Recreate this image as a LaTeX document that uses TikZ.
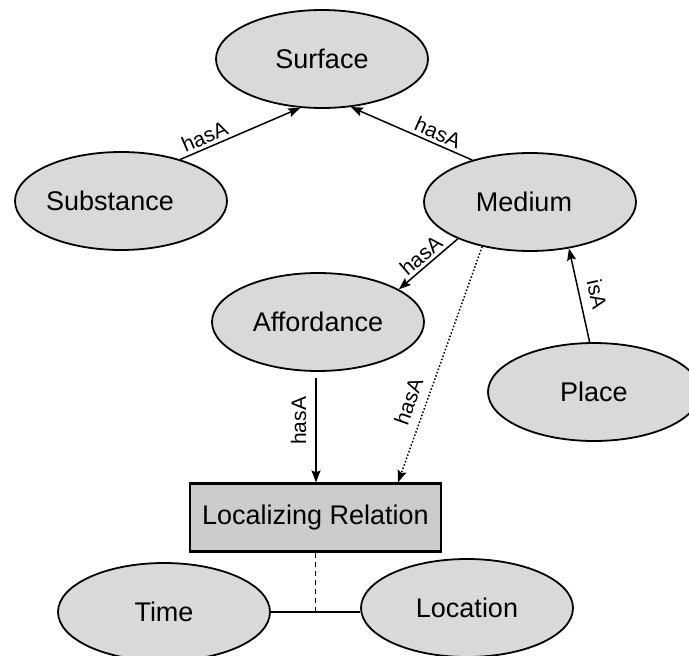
\documentclass[tikz,border=0pt]{standalone}
\usepackage{fontspec}
\setmainfont{Liberation Sans}
\usetikzlibrary{shapes.geometric,arrows.meta,calc}
\definecolor{ellfill}{RGB}{217,217,217}
\definecolor{boxfill}{RGB}{205,203,206}
\tikzset{
  ent/.style={ellipse,draw=black,line width=1.8pt,fill=ellfill,minimum width=212pt,minimum height=98pt,inner sep=0pt,font=\fontsize{27}{32}\selectfont},
  relbox/.style={rectangle,draw=black,line width=2.2pt,fill=boxfill,minimum width=251pt,minimum height=68pt,inner sep=0pt,font=\fontsize{27}{32}\selectfont},
  conn/.style={line width=1.5pt,-{Stealth[length=12pt,width=9pt,inset=2pt]}},
  lbl/.style={font=\fontsize{21}{25}\selectfont,inner sep=0pt}
}
\begin{document}
\begin{tikzpicture}[x=1pt,y=-1pt]
\useasboundingbox (0,0) rectangle (689,656);
\clip (0,0) rectangle (689,656);
\node[ent] (surface) at (322,59) {Surface};
\node[ent] (substance) at (121,201) {\hspace*{-22pt}Substance};
\node[ent] (medium) at (530,202) {\hspace*{-12pt}Medium};
\node[ent] (affordance) at (318,322) {Affordance};
\node[ent] (place) at (594,392) {Place};
\node[relbox] (box) at (315.5,517.5) {Localizing Relation};
\node[ent] (time) at (164,612) {Time};
\node[ent] (location) at (467,608) {Location};

\draw[conn] (substance.35) -- node[lbl,sloped,above=3pt,pos=0.24] {hasA} (surface.246);
\draw[conn] (medium.144) -- node[lbl,sloped,above=3pt,pos=0.32] {hasA} (surface.301);
\draw[conn] (medium.207) -- node[lbl,sloped,above=3pt,pos=0.5] {hasA} (affordance.22);
\draw[conn,dotted] (medium.223) -- node[lbl,sloped,above=9pt,pos=0.68] {hasA} ($(box.north)+(82.5,0)$);
\draw[conn] ($(affordance.south)+(-2,6)$) -- node[lbl,rotate=90,anchor=south,yshift=9pt,pos=0.41] {hasA} ($(box.north)+(0.5,0)$);
\draw[conn] (place.95) -- node[lbl,sloped,above=9pt,pos=0.47] {isA} (medium.310);
\draw[line width=1.5pt] (time.east) -- (time.east -| location.west);
\coordinate (joint) at (box.south |- time.east);
\draw[line width=1.5pt,dash pattern=on 5pt off 4pt] (box.south) -- (joint);
\end{tikzpicture}
\end{document}
